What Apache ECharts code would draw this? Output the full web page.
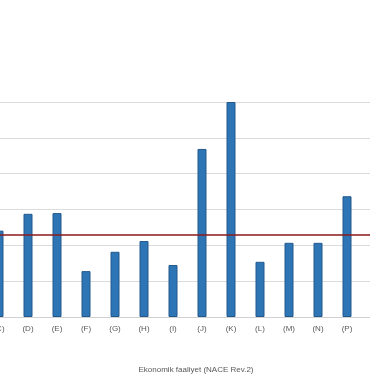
<!DOCTYPE html>
<html>
<head>
<meta charset="utf-8">
<script src="https://cdn.jsdelivr.net/npm/echarts@6/dist/echarts.min.js"></script>
<style>html,body{margin:0;padding:0;background:#fff;}#c{width:370px;height:380px;}</style>
</head>
<body>
<div id="c"></div>
<script>
var categories = ['(C)','(D)','(E)','(F)','(G)','(H)','(I)','(J)','(K)','(L)','(M)','(N)','(P)','(Q)'];
var values = [2.41,2.88,2.90,1.28,1.82,2.12,1.45,4.69,6.00,1.54,2.07,2.07,3.37,null];
var averageValue = [2.29];
var axisTitle = 'Ekonomik faaliyet (NACE Rev.2)';

var chart = echarts.init(document.getElementById('c'), null, {renderer:'canvas'});
chart.setOption({
  animation:false,
  backgroundColor:'#ffffff',
  textStyle:{fontFamily:'Liberation Sans'},
  grid:{left:-15.5, right:-20.5, top:102, bottom:63, containLabel:false, outerBoundsMode:'none'},
  xAxis:{
    type:'category', data:categories,
    axisLine:{show:true, lineStyle:{color:'#d0d0d0', width:1}},
    axisTick:{show:false},
    axisLabel:{color:'#595959', fontSize:8, margin:8, interval:0}
  },
  yAxis:{
    type:'value', min:0, max:6, interval:1,
    axisLine:{show:false}, axisTick:{show:false}, axisLabel:{show:false},
    splitLine:{show:true, lineStyle:{color:'#dcdcdc', width:1}}
  },
  series:[{
    type:'bar', data:values, barWidth:9,
    itemStyle:{color:'#2e75b6', borderColor:'#22598c', borderWidth:1},
    markLine:{
      silent:true, symbol:'none', label:{show:false},
      lineStyle:{color:'#8b1a1a', width:1.5, type:'solid'},
      data:[{yAxis:averageValue[0]}]
    }
  }],
  graphic:[{
    type:'text', x:196, y:370,
    style:{text:axisTitle, fill:'#595959', font:'8px "Liberation Sans"', textAlign:'center', textVerticalAlign:'middle'}
  }]
});
</script>
</body>
</html>
